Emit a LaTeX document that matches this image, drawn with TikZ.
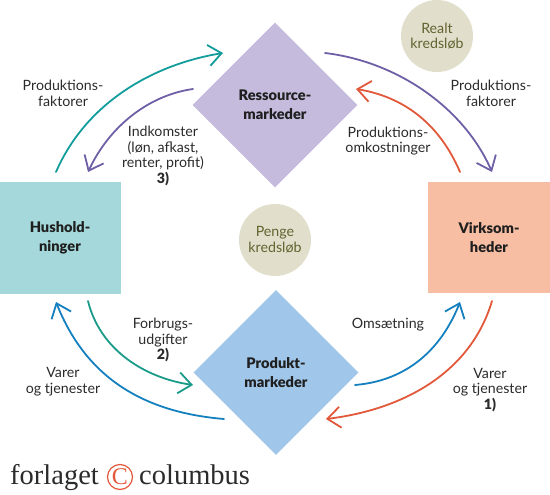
\documentclass[tikz,border=0pt]{standalone}
\usepackage{fontspec}
\setmainfont{Lato}
\newfontfamily\logofont{Liberation Serif}
\newfontfamily\heavyfont{Lato Black}
\usetikzlibrary{shapes.geometric,arrows.meta}
\definecolor{txt}{HTML}{2B2B2B}
\definecolor{cteal}{HTML}{129C9C}
\definecolor{cpurple}{HTML}{6F5FA6}
\definecolor{corange}{HTML}{E2583A}
\definecolor{cblue}{HTML}{1480BF}
\definecolor{cgreen}{HTML}{1A9B8A}
\definecolor{circfill}{HTML}{E1DFCC}
\definecolor{circtxt}{HTML}{62622F}
\tikzset{
  x=1pt,y=-1pt,
  flow/.style={line width=1.8pt,line cap=round,-{Straight Barb[length=13pt,width=21pt,line width=1.8pt]}},
  lbl/.style={font=\fontsize{14.2}{15.7}\selectfont,text=txt,align=center,inner sep=0pt},
  title/.style={font=\heavyfont\fontsize{14.6}{19}\selectfont,text=black!88,align=center},
  dia/.style={diamond,aspect=1,minimum width=165pt,minimum height=165pt,inner sep=0pt},
  box/.style={rectangle,minimum width=122pt,minimum height=111pt,inner sep=0pt},
  circ/.style={circle,minimum size=72pt,inner sep=0pt,fill=circfill,text=circtxt,align=center,font=\fontsize{14.2}{15.7}\selectfont},
}
\begin{document}
\begin{tikzpicture}
\useasboundingbox (0,0) rectangle (550,495);
\node[dia,fill={rgb,255:red,197;green,188;blue,221},title] (res) at (275,105) {Ressource-\\markeder};
\node[dia,fill={rgb,255:red,160;green,198;blue,233},title] (prod) at (276,372.5) {Produkt-\\markeder};
\node[box,fill={rgb,255:red,165;green,216;blue,218},title] (hus) at (60,238) {Hushold-\\ninger};
\node[box,fill={rgb,255:red,247;green,190;blue,163},title] (virk) at (489,237.5) {Virksom-\\heder};
\node[circ] (realt) at (437,36) {Realt\\kredsløb};
\node[circ] (penge) at (275,240) {Penge\\kredsløb};

\coordinate (a1) at (56,172);   \coordinate (a2) at (223,53);
\coordinate (b1) at (193,89);   \coordinate (b2) at (88,172);
\coordinate (c1) at (325,53);   \coordinate (c2) at (492,172);
\coordinate (d1) at (460,172);  \coordinate (d2) at (356,89);
\coordinate (e1) at (88,301);   \coordinate (e2) at (193,385);
\coordinate (f1) at (224,419);  \coordinate (f2) at (56,302);
\coordinate (g1) at (355,385);  \coordinate (g2) at (460,302);
\coordinate (h1) at (492,301);  \coordinate (h2) at (326,419);

\draw[flow,cteal]   (a1) .. controls (85,105) and (150,65) .. (a2);
\draw[flow,cpurple] (b1) .. controls (150,95) and (110,125) .. (b2);
\draw[flow,cpurple] (c1) .. controls (400,62) and (465,110) .. (c2);
\draw[flow,corange] (d1) .. controls (440,125) and (405,97) .. (d2);
\draw[flow,cgreen]  (e1) .. controls (100,350) and (145,378) .. (e2);
\draw[flow,cblue]   (f1) .. controls (140,412) and (85,375) .. (f2);
\draw[flow,cblue]   (g1) .. controls (415,380) and (445,340) .. (g2);
\draw[flow,corange] (h1) .. controls (470,375) and (400,410) .. (h2);

\node[lbl] (l1) at (63,93) {Produktions-\\faktorer};
\node[lbl] (l2) at (163,156) {Indkomster\\(løn, afkast,\\renter, profit)\\{\heavyfont 3)}};
\node[lbl] (l3) at (491,93) {Produktions-\\faktorer};
\node[lbl] (l4) at (388,141) {Produktions-\\omkostninger};
\node[lbl] (l5) at (163,340) {Forbrugs-\\udgifter\\{\heavyfont 2)}};
\node[lbl] (l6) at (63,382) {Varer\\og tjenester};
\node[lbl] (l7) at (388,325) {Omsætning};
\node[lbl] (l8) at (490,390) {Varer\\og tjenester\\{\heavyfont 1)}};

\node[inner sep=0pt,anchor=base west,font=\logofont\fontsize{28.5}{31}\selectfont,text=txt] (logo1) at (10,484) {forlaget};
\node[circle,draw=corange,line width=1.2pt,minimum size=25pt,inner sep=0pt,font=\logofont\fontsize{24}{24}\selectfont,text=corange] (logoc) at (120,477) {C};
\node[inner sep=0pt,anchor=base west,font=\logofont\fontsize{28.5}{31}\selectfont,text=txt] (logo2) at (139,484) {columbus};
\end{tikzpicture}
\end{document}
